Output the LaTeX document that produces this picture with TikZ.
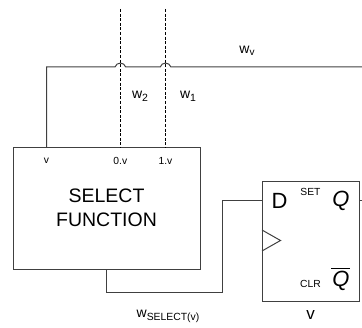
\documentclass[tikz,border=0pt]{standalone}
\usepackage{fontspec}
\setmainfont{Liberation Sans}
\tikzset{
  wire/.style={draw=black!75,line width=1pt},
  dashwire/.style={draw=black,line width=0.75pt,dash pattern=on 3pt off 1.6pt},
  blockbox/.style={draw=black!75,line width=1pt,inner sep=0pt,anchor=north west},
  lbl/.style={inner sep=0pt,text=black,font=\fontsize{14}{16}\selectfont},
  tiny/.style={inner sep=0pt,text=black,font=\fontsize{10.3}{12}\selectfont},
}
\begin{document}
\begin{tikzpicture}[x=1pt,y=-1pt]
\useasboundingbox (0,0) rectangle (362,328);
\node[blockbox,minimum width=187.5pt,minimum height=122pt] (sel) at (12.5,147.5) {};
\node[blockbox,minimum width=97pt,minimum height=120.5pt] (ff) at (262,181) {};
% ports
\coordinate (pv) at (46.5,147.5);
\coordinate (p0) at (120.3,147.5);
\coordinate (p1) at (165.5,147.5);
\coordinate (t0) at (120.3,9);
\coordinate (t1) at (165.5,9);
\coordinate (corner) at (46.5,67);
\coordinate (a0) at (115,67);
\coordinate (b0) at (125.7,67);
\coordinate (a1) at (160.2,67);
\coordinate (b1) at (170.9,67);
\coordinate (wend) at (362,67);
\coordinate (d) at (262,200.7);
\coordinate (qs) at (359,200.7);
\coordinate (qe) at (362,200.7);
\coordinate (sb) at (106.5,269.5);
\coordinate (c1) at (106.5,292.5);
\coordinate (c2) at (222.5,292.5);
\coordinate (c3) at (222.5,200.7);
\coordinate (ck1) at (262,230);
\coordinate (ck2) at (280.5,240.5);
\coordinate (ck3) at (262,251);
% dashed
\draw[dashwire] (t0) -- (p0);
\draw[dashwire] (t1) -- (p1);
% wires
\draw[wire] (pv) -- (corner) -- (a0)
  .. controls (116.5,61.8) and (124.2,61.8) .. (b0) -- (a1)
  .. controls (161.7,61.8) and (169.4,61.8) .. (b1) -- (wend);
\draw[wire] (sb) -- (c1) -- (c2) -- (c3) -- (d);
\draw[wire] (qs) -- (qe);
\draw[wire] (ck1) -- (ck2) -- (ck3);
% labels
\node[lbl] (lwv) at (247,50.5) {w\raisebox{-0.3ex}{\fontsize{10}{10}\selectfont v}};
\node[lbl] (lw2) at (140,96.5) {w\raisebox{-0.35ex}{\fontsize{10.5}{10}\selectfont 2}};
\node[lbl] (lw1) at (188,96.5) {w\raisebox{-0.35ex}{\fontsize{10.5}{10}\selectfont 1}};
\node[tiny] (lv) at (46.5,161) {v};
\node[tiny] (l0) at (120.3,161) {0.v};
\node[tiny] (l1) at (165.5,161) {1.v};
\node[inner sep=0pt,align=center,font=\fontsize{19.5}{24.5}\selectfont] (title) at (106.5,208) {SELECT\\FUNCTION};
\node[inner sep=0pt,font=\fontsize{22}{24}\selectfont] (D) at (279.5,200.5) {D};
\node[inner sep=0pt,font=\itshape\fontsize{22}{24}\selectfont] (Q) at (341,201) {Q};
\node[inner sep=0pt,font=\itshape\fontsize{22}{24}\selectfont] (Qb) at (341,281) {Q};
\draw[draw=black,line width=0.9pt] (331,268.5) -- (349.5,268.5);
\node[tiny] (set) at (310.5,191.5) {SET};
\node[tiny] (clr) at (310.5,283.5) {CLR};
\node[lbl] (lsel) at (168,316.5) {w\raisebox{-0.35ex}{\fontsize{10.4}{10}\selectfont SELECT(v)}};
\node[inner sep=0pt,font=\fontsize{17}{18}\selectfont] (lv2) at (310.5,315) {v};
\end{tikzpicture}
\end{document}
